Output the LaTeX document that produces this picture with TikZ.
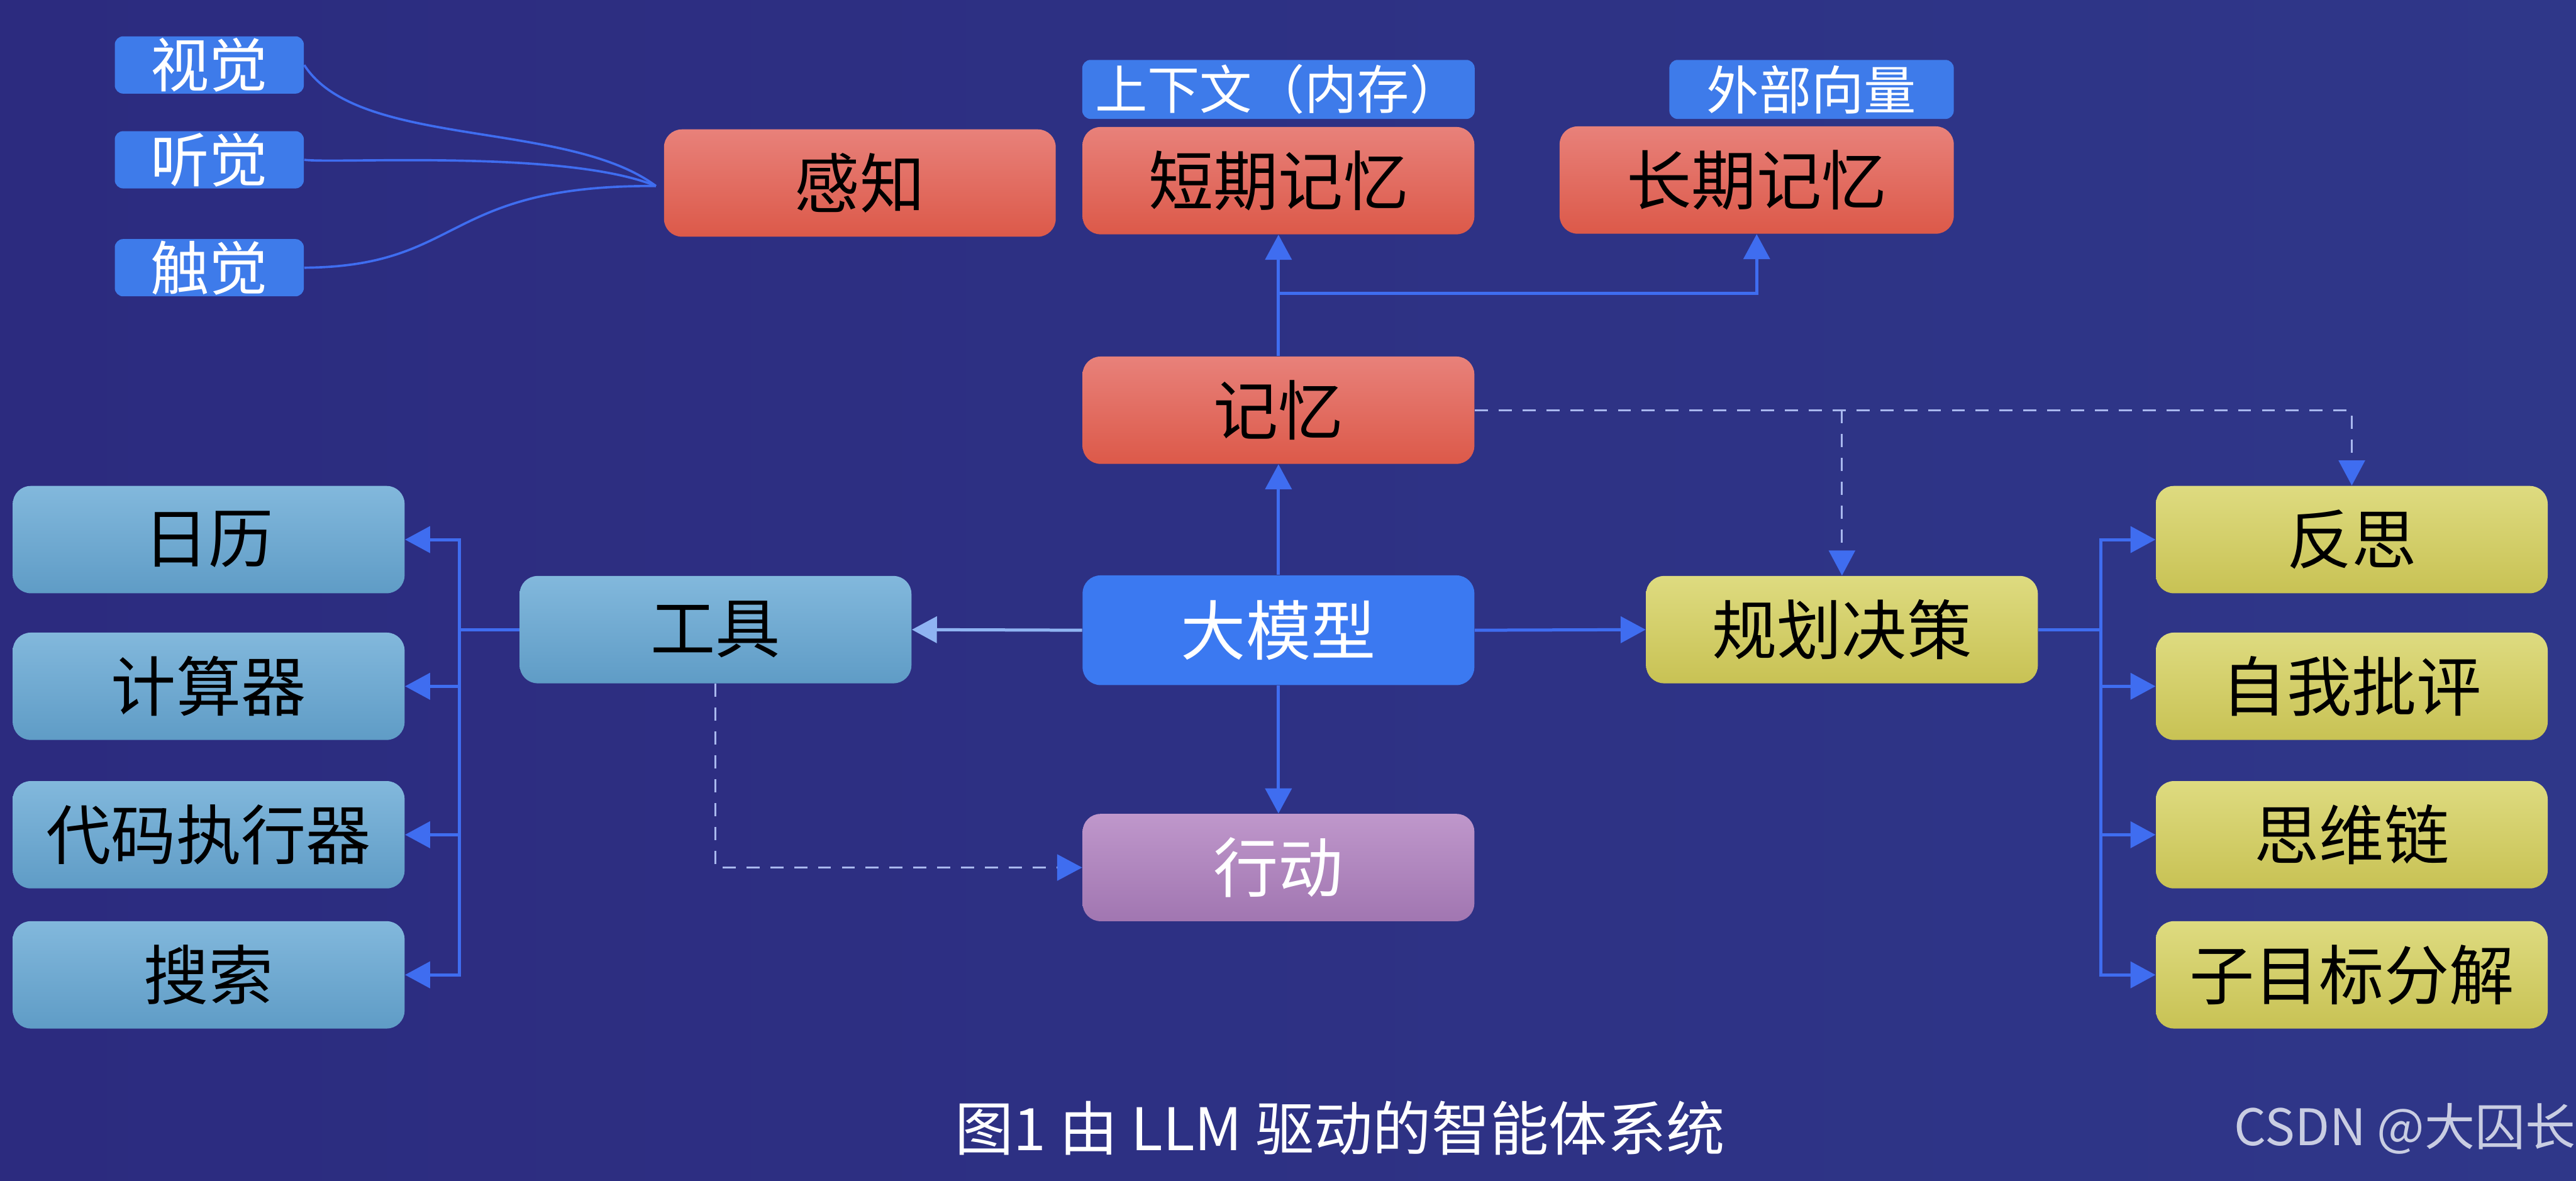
\documentclass[tikz,border=0pt]{standalone}
\usepackage{fontspec}
\setmainfont{Noto Sans CJK SC}
\usepackage{xcolor}
\usepackage{tikz}
\usetikzlibrary{arrows.meta,calc}
\definecolor{bgleft}{HTML}{2C2B7F}
\definecolor{bgmid}{HTML}{381F76}
\definecolor{bgright}{HTML}{2F3789}
\definecolor{linkblue}{HTML}{3F6DF0}
\definecolor{lightlink}{HTML}{8FB4F2}
\definecolor{dashcol}{HTML}{A9B8EE}
\definecolor{tagblue}{HTML}{3E7BEA}
\definecolor{redtop}{HTML}{E8817A}
\definecolor{redbot}{HTML}{DC5949}
\definecolor{tooltop}{HTML}{82B8DC}
\definecolor{toolbot}{HTML}{5F9CC6}
\definecolor{llmblue}{HTML}{3B79F1}
\definecolor{acttop}{HTML}{BF97CB}
\definecolor{actbot}{HTML}{A176B1}
\definecolor{plantop}{HTML}{DEDB80}
\definecolor{planbot}{HTML}{C8C254}
\definecolor{marktext}{HTML}{C9CDE2}

\begin{document}
\begin{tikzpicture}[x=1cm,y=1cm,
  box/.style={rounded corners=0.3cm, minimum width=6.57cm, minimum height=1.8cm,
    inner sep=0pt, font=\fontsize{31pt}{31pt}\selectfont},
  redbox/.style={box, top color=redtop, bottom color=redbot},
  toolbox/.style={box, top color=tooltop, bottom color=toolbot},
  planbox/.style={box, top color=plantop, bottom color=planbot},
  senselabel/.style={rounded corners=0.14cm, fill=tagblue, text=white, inner sep=0pt,
    minimum width=3.17cm, minimum height=0.96cm, font=\fontsize{28pt}{28pt}\selectfont},
  memlabel/.style={senselabel, minimum height=0.99cm, font=\fontsize{25pt}{25pt}\selectfont},
  arrow/.style={linkblue, line width=1.5pt, -{Triangle[length=4.2mm,width=4.4mm]}},
  dasharrow/.style={dashcol, line width=0.9pt, dash pattern=on 2.2mm off 1.8mm,
    -{Triangle[length=4.2mm,width=4.4mm,color=linkblue]}},
  curve/.style={linkblue, line width=1.1pt}]
  % background
  \shade[left color=bgleft, middle color=bgmid, right color=bgright] (0,0) rectangle (43.2,19.8);
  \useasboundingbox (0,0) rectangle (43.2,19.8);

  % perception
  \node[senselabel] (shijue) at (3.51,18.71) {视觉};
  \node[senselabel] (tingjue) at (3.51,17.12) {听觉};
  \node[senselabel] (chujue) at (3.51,15.31) {触觉};
  \node[redbox] (ganzhi) at (14.42,16.73) {感知};
  \coordinate (gzin) at (11.0,16.68);
  \draw[curve] (shijue.east) .. controls (6.0,17.3) and (9.5,17.8) .. (gzin);
  \draw[curve] (tingjue.east) .. controls (5.6,17.05) and (9.5,17.3) .. (gzin);
  \draw[curve] (chujue.east) .. controls (7.8,15.33) and (7.4,16.7) .. (gzin);

  % memory
  \node[memlabel, minimum width=6.58cm] (context) at (21.44,18.30) {上下文（内存）};
  \node[redbox] (duanqi) at (21.44,16.77) {短期记忆};
  \node[memlabel, minimum width=4.77cm] (vector) at (30.38,18.30) {外部向量};
  \node[redbox, minimum width=6.61cm] (changqi) at (29.46,16.78) {长期记忆};
  \node[redbox] (jiyi) at (21.44,12.92) {记忆};
  \coordinate (mjunc) at (21.44,14.88);
  \draw[arrow] (jiyi.north) -- (duanqi.south);
  \draw[arrow] (mjunc) -| (changqi.south);

  % centre
  \node[box, fill=llmblue, text=white, minimum height=1.84cm] (damoxing) at (21.44,9.23) {大模型};
  \node[box, top color=acttop, bottom color=actbot, text=white] (xingdong) at (21.44,5.25) {行动};
  \draw[arrow] (damoxing.north) -- (jiyi.south);
  \draw[arrow] (damoxing.south) -- (xingdong.north);

  % tools
  \node[toolbox] (gongju) at (12.00,9.24) {工具};
  \node[toolbox] (rili) at (3.50,10.75) {日历};
  \node[toolbox] (jisuanqi) at (3.50,8.29) {计算器};
  \node[toolbox] (daima) at (3.50,5.80) {代码执行器};
  \node[toolbox] (sousuo) at (3.50,3.45) {搜索};
  \coordinate (tbus) at (7.70,9.24);
  \draw[arrow, lightlink] (damoxing.west) -- (gongju.east);
  \foreach \n in {rili,jisuanqi,daima,sousuo}
    \draw[arrow] (gongju.west) -- (tbus) |- (\n.east);
  \draw[dasharrow] (gongju.south) |- (xingdong.west);

  % planning
  \node[planbox] (guihua) at (30.89,9.24) {规划决策};
  \node[planbox] (fansi) at (39.44,10.75) {反思};
  \node[planbox] (piping) at (39.44,8.29) {自我批评};
  \node[planbox] (siwei) at (39.44,5.80) {思维链};
  \node[planbox] (zimubiao) at (39.44,3.45) {子目标分解};
  \coordinate (pbus) at (35.23,9.24);
  \draw[arrow] (damoxing.east) -- (guihua.west);
  \foreach \n in {fansi,piping,siwei,zimubiao}
    \draw[arrow] (guihua.east) -- (pbus) |- (\n.west);
  \draw[dasharrow] (jiyi.east) -| (fansi.north);
  \draw[dasharrow] (jiyi.east -| guihua.north) -- (guihua.north);

  % caption
  \node[text=white, font=\fontsize{28pt}{28pt}\selectfont] (caption) at (22.47,0.88) {图1 由 LLM 驱动的智能体系统};
  \node[anchor=east, text=marktext, inner sep=0pt, font=\fontsize{24pt}{24pt}\selectfont] (mark) at (43.2,0.87) {CSDN @大囚长};
\end{tikzpicture}
\end{document}
